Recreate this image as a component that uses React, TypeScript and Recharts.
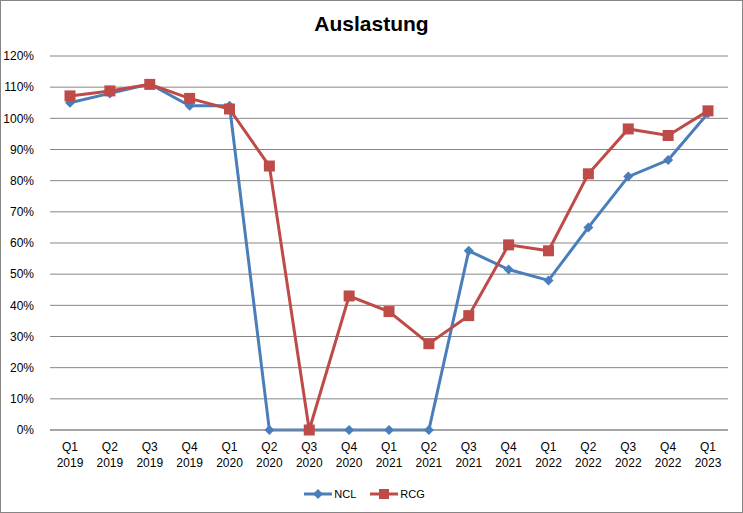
import { CartesianGrid, Legend, Line, LineChart, XAxis, YAxis } from 'recharts'

const quarters = [
  'Q1 2019', 'Q2 2019', 'Q3 2019', 'Q4 2019',
  'Q1 2020', 'Q2 2020', 'Q3 2020', 'Q4 2020',
  'Q1 2021', 'Q2 2021', 'Q3 2021', 'Q4 2021',
  'Q1 2022', 'Q2 2022', 'Q3 2022', 'Q4 2022',
  'Q1 2023',
]

// Auslastung in %
const ncl = [105, 108, 111, 104, 104, 0, 0, 0, 0, 0, 57.5, 51.5, 48, 65, 81.3, 86.6, 101.6]
const rcg = [107.2, 108.8, 110.9, 106.4, 103, 84.7, 0, 43, 38, 27.7, 36.7, 59.4, 57.5, 82.2, 96.6, 94.5, 102.4]

const yTicks = [0, 10, 20, 30, 40, 50, 60, 70, 80, 90, 100, 110, 120]

const data = quarters.map((q, i) => ({ q, NCL: ncl[i], RCG: rcg[i] }))

const BLUE = '#4a7ebb'
const RED = '#be4b48'
const FONT = '"Liberation Sans", Arial, sans-serif'

const Diamond = (props: any) => {
  const { cx, cy, fill } = props
  if (cx == null || cy == null) return null
  return <path d={`M${cx},${cy - 5} L${cx + 5},${cy} L${cx},${cy + 5} L${cx - 5},${cy} Z`} fill={fill} />
}

const Square = (props: any) => {
  const { cx, cy, fill } = props
  if (cx == null || cy == null) return null
  return <rect x={cx - 5.5} y={cy - 5.5} width={11} height={11} fill={fill} />
}

const QuarterTick = (props: any) => {
  const { x, y, payload } = props
  const [q, yr] = String(payload.value).split(' ')
  return (
    <text x={x} y={y} textAnchor="middle" fill="#000" fontSize={12} fontFamily={FONT}>
      <tspan x={x} dy={13}>{q}</tspan>
      <tspan x={x} dy={16}>{yr}</tspan>
    </text>
  )
}

const LegendContent = () => (
  <div style={{ display: 'flex', justifyContent: 'center', gap: 14, fontFamily: FONT, fontSize: 11 }}>
    <span style={{ display: 'flex', alignItems: 'center' }}>
      <svg width={30} height={12}>
        <line x1={0} x2={28} y1={6} y2={6} stroke={BLUE} strokeWidth={3} />
        <path d="M14,1 L19,6 L14,11 L9,6 Z" fill={BLUE} />
      </svg>
      NCL
    </span>
    <span style={{ display: 'flex', alignItems: 'center' }}>
      <svg width={30} height={12}>
        <line x1={0} x2={28} y1={6} y2={6} stroke={RED} strokeWidth={3} />
        <rect x={9} y={1} width={10} height={10} fill={RED} />
      </svg>
      RCG
    </span>
  </div>
)

export default function App() {
  return (
    <div style={{ width: 743, height: 513, boxSizing: 'border-box', border: '1px solid #868686', background: '#fff', position: 'relative' }}>
      <style>{'body{margin:0}'}</style>
      <div style={{ position: 'absolute', top: 11, left: 0, width: '100%', textAlign: 'center', fontFamily: FONT, fontWeight: 'bold', fontSize: 21 }}>
        Auslastung
      </div>
      <LineChart width={741} height={511} data={data} margin={{ top: 55, right: 14, left: 0, bottom: 12 }}>
        <CartesianGrid vertical={false} stroke="#868686" strokeWidth={1} />
        <XAxis
          dataKey="q"
          interval={0}
          padding={{ left: 20, right: 20 }}
          axisLine={{ stroke: '#868686' }}
          tickLine={false}
          tick={<QuarterTick />}
          height={58}
        />
        <YAxis
          domain={[0, 120]}
          ticks={yTicks}
          width={49}
          axisLine={false}
          tickLine={false}
          tickFormatter={(v) => `${v}%`}
          tick={{ fill: '#000', fontSize: 12, fontFamily: FONT }}
          tickMargin={10}
        />
        <Legend verticalAlign="bottom" content={<LegendContent />} />
        <Line dataKey="NCL" stroke={BLUE} strokeWidth={3} fill={BLUE} dot={<Diamond />} activeDot={false} isAnimationActive={false} />
        <Line dataKey="RCG" stroke={RED} strokeWidth={3} fill={RED} dot={<Square />} activeDot={false} isAnimationActive={false} />
      </LineChart>
    </div>
  )
}
